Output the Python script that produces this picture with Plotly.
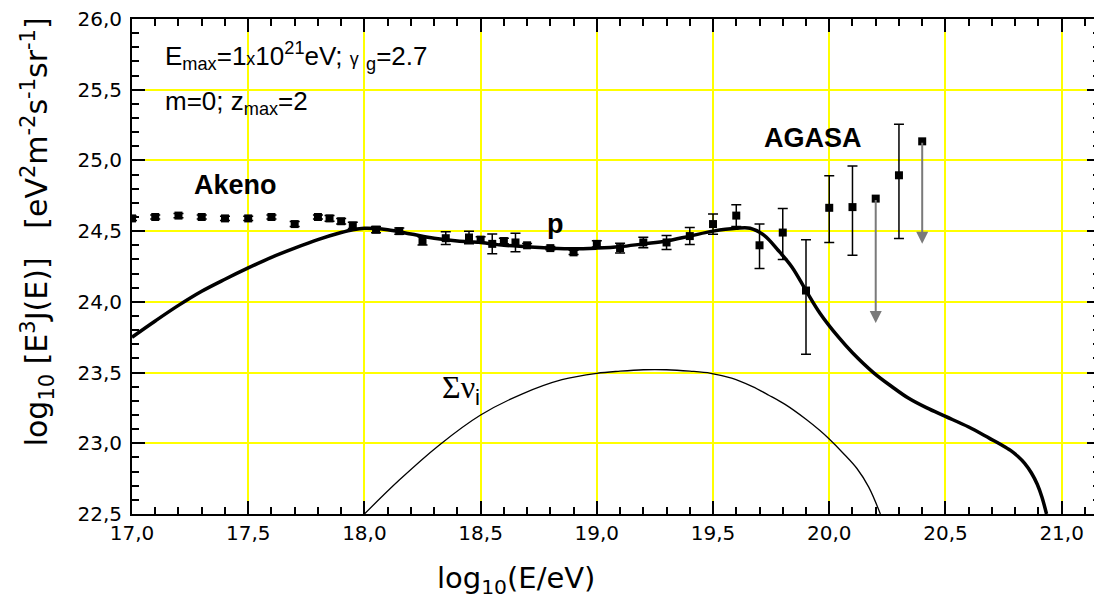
import plotly.graph_objects as go

# ---------------- data ----------------
# Akeno data points: log10(E/eV), log10(E^3 J), symmetric error
akeno_x = [17.00, 17.10, 17.20, 17.30, 17.40, 17.50, 17.60, 17.70, 17.80, 17.85, 17.90, 17.95,
           18.05, 18.15, 18.25, 18.35, 18.45, 18.50, 18.55, 18.60, 18.65, 18.70]
akeno_y = [24.59, 24.60, 24.61, 24.60, 24.59, 24.59, 24.60, 24.55, 24.60, 24.59, 24.57, 24.54,
           24.51, 24.50, 24.43, 24.45, 24.455, 24.44, 24.41, 24.43, 24.42, 24.40]
akeno_err = [0.015, 0.015, 0.015, 0.015, 0.015, 0.015, 0.015, 0.018, 0.015, 0.02, 0.02, 0.022,
             0.022, 0.022, 0.028, 0.045, 0.045, 0.02, 0.07, 0.02, 0.065, 0.012]

# AGASA data points with asymmetric errors
agasa_x = [18.80, 18.90, 19.00, 19.10, 19.20, 19.30, 19.40, 19.50, 19.60, 19.70, 19.80, 19.90, 20.00, 20.10, 20.30]
agasa_y = [24.38, 24.35, 24.41, 24.38, 24.42, 24.42, 24.465, 24.55, 24.61, 24.40, 24.49, 24.08, 24.665, 24.67, 24.895]
agasa_up = [0.012, 0.015, 0.022, 0.035, 0.037, 0.05, 0.06, 0.072, 0.077, 0.15, 0.17, 0.36, 0.226, 0.29, 0.36]
agasa_dn = [0.012, 0.015, 0.022, 0.035, 0.037, 0.05, 0.06, 0.072, 0.077, 0.165, 0.19, 0.45, 0.245, 0.34, 0.447]

# AGASA upper limits (point and arrow tip)
ul_x = [20.20, 20.40]
ul_y = [24.73, 25.135]
ul_tip = [23.85, 24.41]

# Proton spectrum (thick curve)
p_x = [17.00, 17.10, 17.20, 17.30, 17.40, 17.50, 17.60, 17.70, 17.80, 17.90, 17.95, 18.00,
       18.10, 18.20, 18.30, 18.40, 18.50, 18.60, 18.70, 18.80, 18.90, 19.00, 19.10, 19.20,
       19.30, 19.40, 19.50, 19.60, 19.66, 19.72, 19.78, 19.84, 19.90, 19.96, 20.04, 20.10,
       20.19, 20.27, 20.34, 20.42, 20.50, 20.60, 20.69, 20.74, 20.78, 20.81, 20.84, 20.87,
       20.895, 20.915, 20.935]
p_y = [23.75, 23.865, 23.975, 24.075, 24.16, 24.24, 24.315, 24.38, 24.44, 24.49, 24.51, 24.52,
       24.51, 24.48, 24.45, 24.43, 24.42, 24.40, 24.39, 24.38, 24.375, 24.38, 24.39, 24.41,
       24.43, 24.465, 24.50, 24.52, 24.52, 24.47, 24.365, 24.245, 24.08, 23.92, 23.75, 23.64,
       23.50, 23.40, 23.32, 23.25, 23.19, 23.115, 23.035, 22.99, 22.95, 22.91, 22.86, 22.79,
       22.71, 22.62, 22.50]

# Sum of neutrino fluxes (thin curve)
nu_x = [18.00, 18.15, 18.32, 18.50, 18.68, 18.85, 19.00, 19.10, 19.20, 19.30, 19.40, 19.49,
        19.58, 19.67, 19.74, 19.81, 19.90, 19.96, 20.00, 20.06, 20.12, 20.17, 20.22]
nu_y = [22.50, 22.74, 22.985, 23.20, 23.35, 23.45, 23.495, 23.51, 23.52, 23.52, 23.51, 23.495,
        23.46, 23.40, 23.34, 23.275, 23.17, 23.09, 23.03, 22.93, 22.82, 22.69, 22.50]

# Axis ticks
x_ticks = [17.0, 17.5, 18.0, 18.5, 19.0, 19.5, 20.0, 20.5, 21.0]
x_tick_labels = ["17,0", "17,5", "18,0", "18,5", "19,0", "19,5", "20,0", "20,5", "21,0"]
y_ticks = [22.5, 23.0, 23.5, 24.0, 24.5, 25.0, 25.5, 26.0]
y_tick_labels = ["22,5", "23,0", "23,5", "24,0", "24,5", "25,0", "25,5", "26,0"]

# ---------------- figure ----------------
FONT = "DejaVu Sans"
ARIAL = "Liberation Sans"
SERIF = "Liberation Serif"

fig = go.Figure()

fig.add_trace(go.Scatter(x=nu_x, y=nu_y, mode="lines",
                         line=dict(color="black", width=1.3, shape="spline", smoothing=1.0)))
fig.add_trace(go.Scatter(x=p_x, y=p_y, mode="lines",
                         line=dict(color="black", width=3.5, shape="spline", smoothing=1.0)))

marker = dict(symbol="square", size=8, color="black")
fig.add_trace(go.Scatter(x=akeno_x, y=akeno_y, mode="markers", marker=marker,
                         error_y=dict(type="data", array=akeno_err, color="black",
                                      thickness=1.5, width=5)))
fig.add_trace(go.Scatter(x=agasa_x, y=agasa_y, mode="markers", marker=marker,
                         error_y=dict(type="data", symmetric=False, array=agasa_up,
                                      arrayminus=agasa_dn, color="black",
                                      thickness=1.5, width=5)))

for xv, yv, tip in zip(ul_x, ul_y, ul_tip):
    fig.add_annotation(x=xv, y=tip, ax=xv, ay=yv, xref="x", yref="y", axref="x", ayref="y",
                       text="", showarrow=True, arrowhead=2, arrowsize=1.2, arrowwidth=2,
                       arrowcolor="#7a7a7a", standoff=0, startstandoff=0)
fig.add_trace(go.Scatter(x=ul_x, y=ul_y, mode="markers", marker=marker))

axis_common = dict(ticks="inside", ticklen=13, tickwidth=2, tickcolor="black",
                   showline=True, linecolor="black", linewidth=2, mirror="ticks",
                   showgrid=True, gridcolor="#ffff00", gridwidth=1.6, zeroline=False,
                   ticklabeloverflow="allow",
                   tickfont=dict(family=FONT, size=20, color="black"))

fig.update_xaxes(range=[17.0, 21.165], tickmode="array", tickvals=x_ticks, ticktext=x_tick_labels,
                 minor=dict(tickmode="linear", tick0=17.0, dtick=0.1, ticks="inside", ticklen=7,
                            tickwidth=2, tickcolor="black", showgrid=False),
                 **axis_common)
fig.update_yaxes(range=[22.5, 26.0], tickmode="array", tickvals=y_ticks, ticktext=y_tick_labels,
                 ticklabelstandoff=4,
                 minor=dict(tickmode="linear", tick0=22.5, dtick=0.1, ticks="inside", ticklen=7,
                            tickwidth=2, tickcolor="black", showgrid=False),
                 **axis_common)

# Text annotations
fig.add_annotation(x=17.134, y=25.736, xref="x", yref="y", xanchor="left", yanchor="middle",
                   showarrow=False, font=dict(family=ARIAL, size=26, color="black"),
                   text="E<sub>max</sub>=1<span style='font-size:18px'>x</span>10<sup>21</sup>eV; "
                        "<span style='font-size:18px'>γ</span> <sub>g</sub>=2.7")
fig.add_annotation(x=17.134, y=25.408, xref="x", yref="y", xanchor="left", yanchor="middle",
                   showarrow=False, font=dict(family=ARIAL, size=26, color="black"),
                   text="m=0; z<sub>max</sub>=2")
fig.add_annotation(x=17.444, y=24.823, xref="x", yref="y", showarrow=False,
                   font=dict(family=ARIAL, size=27, color="black"), text="<b>Akeno</b>")
fig.add_annotation(x=19.928, y=25.157, xref="x", yref="y", showarrow=False,
                   font=dict(family=ARIAL, size=27, color="black"), text="<b>AGASA</b>")
fig.add_annotation(x=18.822, y=24.55, xref="x", yref="y", showarrow=False,
                   font=dict(family=ARIAL, size=27, color="black"), text="<b>p</b>")
fig.add_annotation(x=18.324, y=23.383, xref="x", yref="y", xanchor="left", yanchor="middle",
                   showarrow=False, font=dict(family=SERIF, size=32, color="black"),
                   text="Σν<sub><span style='font-family:Liberation Sans'>i</span></sub>")

# Axis titles
fig.add_annotation(x=(516 - 132) / 968, y=-0.133, xref="paper", yref="paper", showarrow=False,
                   xanchor="center", yanchor="middle",
                   font=dict(family=FONT, size=29, color="black"),
                   text="log<sub>10</sub>(E/eV)")
fig.add_annotation(x=(37 - 132) / 968, y=0.569, xref="paper", yref="paper",
                   showarrow=False, textangle=-90, xanchor="center", yanchor="middle",
                   font=dict(family=FONT, size=30, color="black"),
                   text="log<sub>10</sub> [E<sup>3</sup>J(E)]\u00a0\u00a0\u00a0[eV<sup>2</sup>m<sup>-2</sup>s<sup>-1</sup>sr<sup>-1</sup>]")

# The page body adds an 8px offset, so the figure is 8px smaller and margins compensate.
fig.update_layout(template="none", width=1094, height=592, margin=dict(l=124, r=2, t=11, b=86),
                  plot_bgcolor="white", paper_bgcolor="white", showlegend=False,
                  separators=", ", font=dict(family=FONT, color="black"))

fig.write_html("out.html")
